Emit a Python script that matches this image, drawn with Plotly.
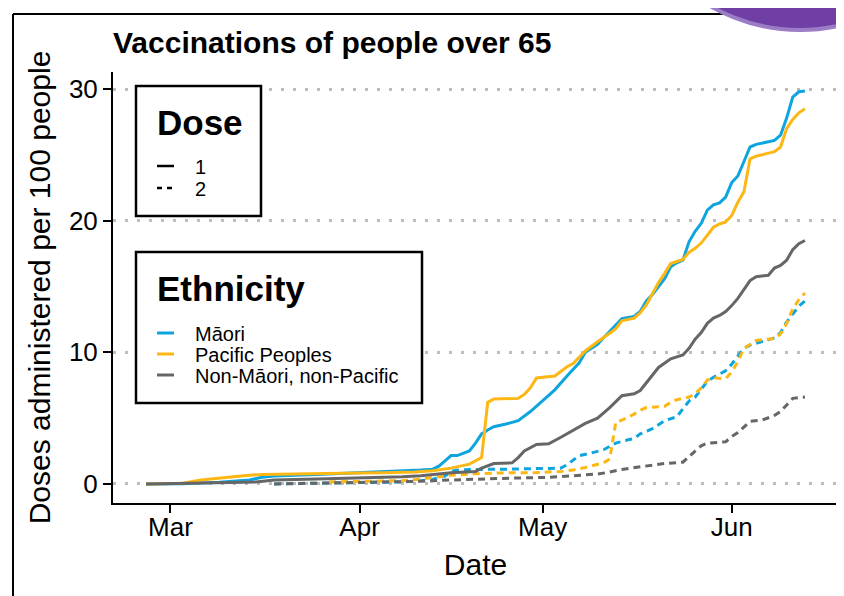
import plotly.graph_objects as go

# ---------------- data ----------------
maori_d1_dates = ["2021-02-25","2021-03-03","2021-03-09","2021-03-14","2021-03-16","2021-03-18","2021-03-25",
    "2021-04-01","2021-04-08","2021-04-11","2021-04-13","2021-04-14","2021-04-15","2021-04-16","2021-04-17",
    "2021-04-19","2021-04-20","2021-04-21","2021-04-22","2021-04-23","2021-04-25","2021-04-27","2021-04-29",
    "2021-05-01","2021-05-03","2021-05-05","2021-05-07","2021-05-08","2021-05-10","2021-05-11","2021-05-12",
    "2021-05-14","2021-05-16","2021-05-17","2021-05-18","2021-05-19","2021-05-20","2021-05-21","2021-05-22",
    "2021-05-23","2021-05-24","2021-05-25","2021-05-26","2021-05-27","2021-05-28","2021-05-29","2021-05-30",
    "2021-05-31","2021-06-01","2021-06-02","2021-06-03","2021-06-04","2021-06-05","2021-06-06","2021-06-07",
    "2021-06-08","2021-06-09","2021-06-10","2021-06-11","2021-06-12","2021-06-13"]
maori_d1 = [0, 0.02, 0.12, 0.3, 0.5, 0.6, 0.72,
    0.85, 0.95, 1.05, 1.12, 1.35, 1.75, 2.15, 2.15,
    2.5, 3.1, 3.8, 4.1, 4.35, 4.55, 4.8, 5.5,
    6.3, 7.15, 8.2, 9.2, 10.0, 10.6, 11.1, 11.6,
    12.55, 12.72, 13.1, 13.9, 14.4, 15.0, 15.6, 16.5,
    16.8, 17.0, 18.4, 19.2, 19.8, 20.8, 21.2, 21.35,
    21.8, 22.9, 23.4, 24.5, 25.6, 25.8, 25.9, 26.0,
    26.1, 26.5, 27.8, 29.4, 29.8, 29.85]

pacific_d1_dates = ["2021-02-25","2021-03-03","2021-03-06","2021-03-09","2021-03-13","2021-03-16","2021-03-21",
    "2021-03-29","2021-04-05","2021-04-10","2021-04-13","2021-04-16","2021-04-19","2021-04-21","2021-04-22",
    "2021-04-23","2021-04-27","2021-04-28","2021-04-29","2021-04-30","2021-05-03","2021-05-05","2021-05-06",
    "2021-05-07","2021-05-08","2021-05-10","2021-05-11","2021-05-12","2021-05-13","2021-05-14","2021-05-16",
    "2021-05-17","2021-05-18","2021-05-19","2021-05-20","2021-05-21","2021-05-22","2021-05-23","2021-05-24",
    "2021-05-25","2021-05-26","2021-05-27","2021-05-28","2021-05-29","2021-05-30","2021-05-31","2021-06-01",
    "2021-06-02","2021-06-03","2021-06-04","2021-06-05","2021-06-06","2021-06-07","2021-06-08","2021-06-09",
    "2021-06-10","2021-06-11","2021-06-12","2021-06-13"]
pacific_d1 = [0, 0.05, 0.3, 0.45, 0.62, 0.72, 0.78,
    0.82, 0.85, 0.9, 1.0, 1.2, 1.5, 2.0, 6.2,
    6.45, 6.5, 6.8, 7.3, 8.05, 8.2, 8.9, 9.15,
    9.6, 10.1, 10.8, 11.1, 11.45, 11.8, 12.4, 12.6,
    13.0, 13.6, 14.5, 15.3, 16.0, 16.75, 16.9, 17.06,
    17.6, 17.9, 18.3, 18.9, 19.5, 19.75, 19.9, 20.4,
    21.4, 22.2, 24.7, 24.9, 25.0, 25.15, 25.25, 25.6,
    27.0, 27.7, 28.2, 28.5]

other_d1_dates = ["2021-02-25","2021-03-03","2021-03-11","2021-03-15","2021-03-18","2021-03-25","2021-04-01",
    "2021-04-08","2021-04-11","2021-04-16","2021-04-20","2021-04-21","2021-04-23","2021-04-26","2021-04-27",
    "2021-04-28","2021-04-30","2021-05-02","2021-05-04","2021-05-06","2021-05-08","2021-05-10","2021-05-12",
    "2021-05-14","2021-05-16","2021-05-17","2021-05-18","2021-05-19","2021-05-20","2021-05-22","2021-05-24",
    "2021-05-25","2021-05-26","2021-05-27","2021-05-28","2021-05-29","2021-05-30","2021-05-31","2021-06-01",
    "2021-06-02","2021-06-03","2021-06-04","2021-06-05","2021-06-07","2021-06-08","2021-06-09","2021-06-10",
    "2021-06-11","2021-06-12","2021-06-13"]
other_d1 = [0, 0.02, 0.1, 0.15, 0.3, 0.38, 0.45,
    0.55, 0.62, 0.85, 0.95, 1.2, 1.55, 1.6, 2.0,
    2.5, 3.0, 3.05, 3.55, 4.1, 4.6, 5.0, 5.8,
    6.7, 6.85, 7.1, 7.7, 8.3, 8.85, 9.5, 9.8,
    10.3, 11.0, 11.5, 12.2, 12.6, 12.8, 13.1, 13.55,
    14.1, 14.8, 15.45, 15.75, 15.85, 16.4, 16.6, 17.0,
    17.8, 18.25, 18.5]

maori_d2_dates = ["2021-03-18","2021-03-25","2021-04-01","2021-04-08","2021-04-11","2021-04-13","2021-04-15",
    "2021-04-16","2021-04-17","2021-04-20","2021-04-25","2021-04-30","2021-05-04","2021-05-05","2021-05-06",
    "2021-05-07","2021-05-09","2021-05-11","2021-05-12","2021-05-13","2021-05-15","2021-05-16","2021-05-17",
    "2021-05-19","2021-05-20","2021-05-21","2021-05-23","2021-05-24","2021-05-25","2021-05-26","2021-05-27",
    "2021-05-28","2021-05-29","2021-05-30","2021-05-31","2021-06-01","2021-06-02","2021-06-03","2021-06-04",
    "2021-06-05","2021-06-06","2021-06-07","2021-06-08","2021-06-09","2021-06-10","2021-06-11","2021-06-12",
    "2021-06-13"]
maori_d2 = [0.0, 0.05, 0.1, 0.15, 0.25, 0.35, 0.6,
    0.95, 1.05, 1.1, 1.12, 1.15, 1.2, 1.45, 1.8,
    2.15, 2.35, 2.6, 2.85, 3.1, 3.35, 3.45, 3.8,
    4.2, 4.5, 4.8, 5.1, 5.7, 6.3, 6.6, 7.2,
    7.8, 8.1, 8.35, 8.6, 9.1, 9.7, 10.3, 10.55,
    10.7, 10.85, 11.0, 11.1, 11.5, 12.3, 12.9, 13.5,
    13.9]

pacific_d2_dates = ["2021-03-27","2021-04-01","2021-04-08","2021-04-11","2021-04-13","2021-04-16","2021-04-20",
    "2021-04-25","2021-04-30","2021-05-04","2021-05-06","2021-05-08","2021-05-10","2021-05-11","2021-05-12",
    "2021-05-13","2021-05-14","2021-05-16","2021-05-17","2021-05-18","2021-05-20","2021-05-21","2021-05-22",
    "2021-05-23","2021-05-25","2021-05-26","2021-05-27","2021-05-28","2021-05-29","2021-05-30","2021-05-31",
    "2021-06-01","2021-06-02","2021-06-03","2021-06-04","2021-06-05","2021-06-07","2021-06-08","2021-06-09",
    "2021-06-10","2021-06-11","2021-06-12","2021-06-13"]
pacific_d2 = [0.15, 0.2, 0.25, 0.35, 0.5, 0.65, 0.78,
    0.84, 0.86, 0.95, 1.05, 1.25, 1.45, 1.6, 1.9,
    4.7, 4.85, 5.3, 5.6, 5.8, 5.87, 5.9, 6.2,
    6.4, 6.6, 6.85, 7.3, 7.9, 8.05, 8.0, 8.0,
    8.5, 9.3, 10.3, 10.6, 10.9, 11.0, 11.05, 11.4,
    12.2, 13.3, 14.0, 14.5]

other_d2_dates = ["2021-03-18","2021-03-25","2021-04-01","2021-04-08","2021-04-11","2021-04-16","2021-04-22",
    "2021-04-27","2021-05-02","2021-05-04","2021-05-07","2021-05-10","2021-05-12","2021-05-14","2021-05-17",
    "2021-05-19","2021-05-21","2021-05-24","2021-05-25","2021-05-26","2021-05-27","2021-05-28","2021-05-31",
    "2021-06-01","2021-06-02","2021-06-03","2021-06-04","2021-06-06","2021-06-08","2021-06-09","2021-06-10",
    "2021-06-11","2021-06-13"]
other_d2 = [0.0, 0.05, 0.1, 0.15, 0.2, 0.3, 0.4,
    0.45, 0.5, 0.55, 0.65, 0.75, 0.9, 1.1, 1.3,
    1.45, 1.55, 1.65, 2.1, 2.5, 2.9, 3.1, 3.2,
    3.6, 3.9, 4.3, 4.75, 4.85, 5.2, 5.5, 6.0,
    6.5, 6.6]

ethnicities = ["Māori", "Pacific Peoples", "Non-Māori, non-Pacific"]
colors = ["#0EA5DF", "#FDB715", "#666666"]
dose_labels = ["1", "2"]
month_ticks = ["2021-03-01", "2021-04-01", "2021-05-01", "2021-06-01"]
month_labels = ["Mar", "Apr", "May", "Jun"]
y_ticks = [0, 10, 20, 30]

# ---------------- layout geometry ----------------
# screen pixel positions; the page body adds an 8 px offset, so subtract it
OFF = 8
W, H = 844, 596
PL, PR, PT, PB = 113 - OFF, 838 - OFF, 72 - OFF, 503 - OFF
FONT = "Liberation Sans, Arial, Helvetica, sans-serif"


def fx(px):
    return (px - OFF - PL) / (PR - PL)


def fy(py):
    return (PB - (py - OFF)) / (PB - PT)


fig = go.Figure()

series = [
    (maori_d2_dates, maori_d2, 0, 2), (pacific_d2_dates, pacific_d2, 1, 2), (other_d2_dates, other_d2, 2, 2),
    (maori_d1_dates, maori_d1, 0, 1), (pacific_d1_dates, pacific_d1, 1, 1), (other_d1_dates, other_d1, 2, 1),
]
for dates, vals, ei, dose in series:
    fig.add_trace(go.Scatter(
        x=dates, y=vals, mode="lines",
        name=f"{ethnicities[ei]} – dose {dose}",
        line=dict(color=colors[ei], width=3, dash="solid" if dose == 1 else "7px,5px"),
        showlegend=False, hoverinfo="x+y+name",
    ))

shapes = []
annotations = []

# legend boxes
for (x0, y0, x1, y1) in [(136, 86, 261, 216), (136, 252, 422, 403)]:
    shapes.append(dict(type="rect", xref="paper", yref="paper",
                       x0=fx(x0), x1=fx(x1), y0=fy(y1), y1=fy(y0),
                       line=dict(color="black", width=2.5), fillcolor="white", layer="above"))

annotations.append(dict(text="<b>Dose</b>", x=fx(155), y=fy(122), xref="paper", yref="paper",
                        xanchor="left", yanchor="middle", showarrow=False,
                        font=dict(size=35, color="black", family=FONT)))
annotations.append(dict(text="<b>Ethnicity</b>", x=fx(155), y=fy(288), xref="paper", yref="paper",
                        xanchor="left", yanchor="middle", showarrow=False,
                        font=dict(size=35, color="black", family=FONT)))

dose_rows = [166, 188]
for i, lab in enumerate(dose_labels):
    shapes.append(dict(type="line", xref="paper", yref="paper",
                       x0=fx(157), x1=fx(174), y0=fy(dose_rows[i]), y1=fy(dose_rows[i]),
                       line=dict(color="black", width=2.5, dash="solid" if i == 0 else "5px,5px"),
                       layer="above"))
    annotations.append(dict(text=lab, x=fx(193), y=fy(dose_rows[i] + 1), xref="paper", yref="paper",
                            xanchor="left", yanchor="middle", showarrow=False,
                            font=dict(size=20, color="black", family=FONT)))

eth_rows = [333, 354, 375]
for i, lab in enumerate(ethnicities):
    shapes.append(dict(type="line", xref="paper", yref="paper",
                       x0=fx(157), x1=fx(174), y0=fy(eth_rows[i]), y1=fy(eth_rows[i]),
                       line=dict(color=colors[i], width=3), layer="above"))
    annotations.append(dict(text=lab, x=fx(193), y=fy(eth_rows[i] + 1), xref="paper", yref="paper",
                            xanchor="left", yanchor="middle", showarrow=False,
                            font=dict(size=20, color="black", family=FONT)))

# slide decorations: frame lines and purple circle
shapes.append(dict(type="line", xref="paper", yref="paper", x0=fx(13), x1=fx(13), y0=fy(14), y1=fy(610),
                   line=dict(color="black", width=2), layer="above"))
shapes.append(dict(type="line", xref="paper", yref="paper", x0=fx(13), x1=fx(860), y0=fy(14), y1=fy(14),
                   line=dict(color="black", width=2), layer="above"))
shapes.append(dict(type="circle", xref="paper", yref="paper",
                   x0=fx(800 - 180), x1=fx(800 + 180), y0=fy(-150 + 180), y1=fy(-150 - 180),
                   fillcolor="#6F3FA5", line=dict(color="#9C7CC6", width=4), layer="above"))

fig.update_layout(
    width=W, height=H,
    margin=dict(l=PL, r=W - PR, t=PT, b=H - PB, autoexpand=False),
    paper_bgcolor="white", plot_bgcolor="white",
    font=dict(family=FONT, color="black"),
    title=dict(text="<b>Vaccinations of people over 65</b>", x=0, xref="paper", xanchor="left",
               y=1 - (42 - OFF) / H, yref="container", yanchor="middle",
               font=dict(size=30, color="black", family=FONT)),
    shapes=shapes, annotations=annotations, showlegend=False,
)

fig.update_xaxes(
    type="date", range=["2021-02-19 14:00", "2021-06-18 10:00"],
    tickvals=month_ticks, ticktext=month_labels,
    ticks="outside", ticklen=8, tickwidth=2, tickcolor="black", ticklabelstandoff=-8,
    showline=True, linewidth=2, linecolor="black", showgrid=False, zeroline=False,
    tickfont=dict(size=26, color="black", family=FONT),
    title=dict(text="Date", font=dict(size=30, color="black", family=FONT), standoff=13),
    automargin=False,
)
fig.update_yaxes(
    range=[-1.45, 31.3], tickvals=y_ticks, ticktext=[str(v) for v in y_ticks],
    ticks="outside", ticklen=8, tickwidth=2, tickcolor="black",
    showline=True, linewidth=2, linecolor="black",
    showgrid=True, gridcolor="#BDBDBD", gridwidth=2.5, griddash="3px,9px", zeroline=False,
    tickfont=dict(size=26, color="black", family=FONT),
    title=dict(text="Doses administered per 100 people", font=dict(size=30, color="black", family=FONT),
               standoff=9),
    automargin=False,
)

fig.write_html("out.html")
